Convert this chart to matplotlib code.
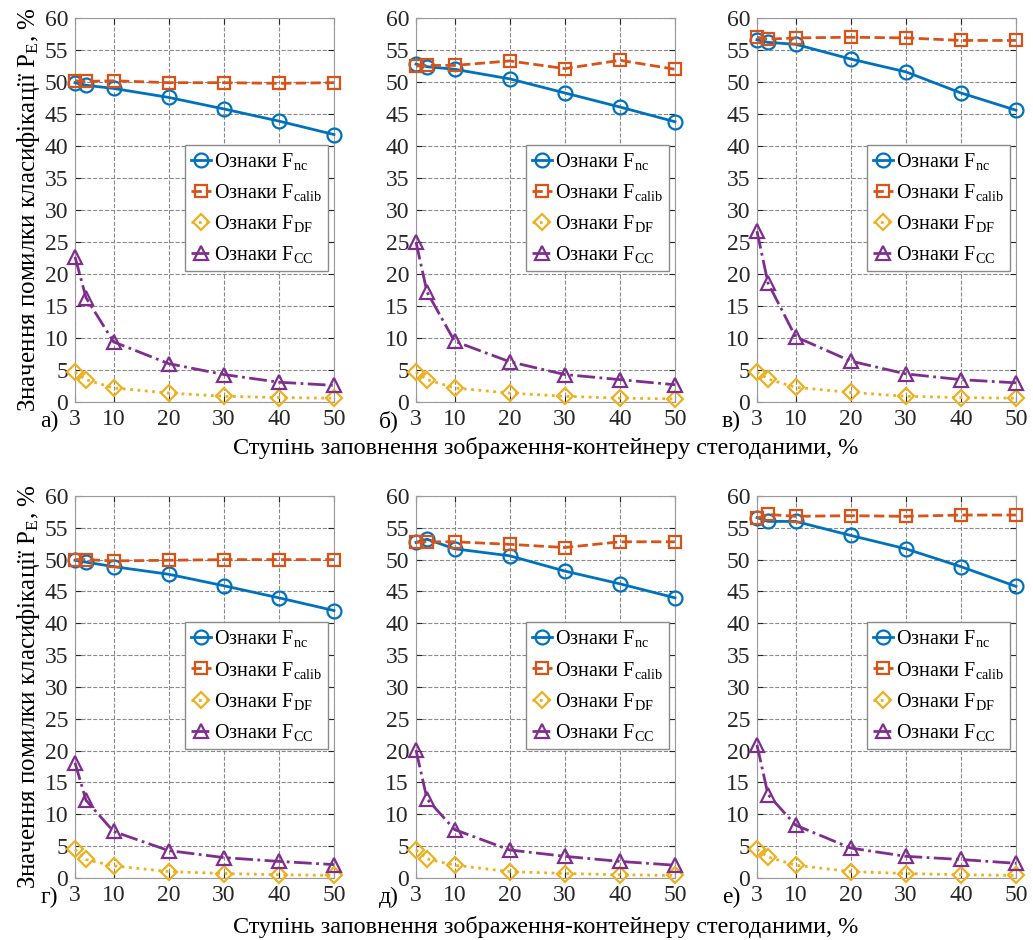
import matplotlib
matplotlib.use('Agg')
import matplotlib.pyplot as plt

plt.rcParams['font.family'] = ['Liberation Serif', 'DejaVu Serif']
plt.rcParams['mathtext.fontset'] = 'custom'
plt.rcParams['mathtext.rm'] = 'Liberation Serif'
plt.rcParams['mathtext.it'] = 'Liberation Serif'

# заповнення, %
x = [3, 5, 10, 20, 30, 40, 50]
x_ticks = [3, 10, 20, 30, 40, 50]

panel_names = ['а)', 'б)', 'в)', 'г)', 'д)', 'е)']

f_nc = [
    [49.9, 49.5, 49.0, 47.6, 45.8, 43.9, 41.8],
    [52.8, 52.4, 52.0, 50.5, 48.3, 46.1, 43.8],
    [56.6, 56.2, 55.9, 53.6, 51.6, 48.3, 45.6],
    [49.9, 49.6, 48.9, 47.7, 45.9, 44.0, 42.0],
    [52.7, 53.2, 51.7, 50.6, 48.2, 46.2, 44.0],
    [56.6, 56.0, 56.0, 53.8, 51.7, 48.9, 45.8],
]
f_calib = [
    [50.2, 50.1, 50.2, 49.9, 49.9, 49.8, 49.9],
    [52.5, 52.6, 52.6, 53.3, 52.1, 53.4, 52.0],
    [57.0, 56.7, 56.9, 57.0, 56.9, 56.5, 56.5],
    [50.0, 50.0, 49.8, 49.9, 50.0, 50.0, 50.0],
    [52.7, 52.8, 52.8, 52.4, 51.9, 52.8, 52.8],
    [56.5, 57.1, 56.8, 56.9, 56.8, 57.0, 57.0],
]
f_df = [
    [4.7, 3.5, 2.2, 1.4, 0.9, 0.7, 0.6],
    [4.7, 3.5, 2.2, 1.4, 0.9, 0.6, 0.5],
    [4.7, 3.6, 2.3, 1.5, 0.9, 0.7, 0.6],
    [4.5, 2.9, 1.9, 1.0, 0.7, 0.5, 0.4],
    [4.4, 3.0, 2.0, 1.0, 0.7, 0.5, 0.4],
    [4.5, 3.3, 2.0, 1.0, 0.7, 0.5, 0.4],
]
f_cc = [
    [22.7, 16.3, 9.4, 6.0, 4.3, 3.1, 2.6],
    [25.0, 17.2, 9.5, 6.3, 4.3, 3.5, 2.7],
    [26.7, 18.6, 10.2, 6.4, 4.4, 3.5, 3.0],
    [18.1, 12.2, 7.3, 4.3, 3.2, 2.6, 2.1],
    [20.1, 12.4, 7.6, 4.4, 3.4, 2.6, 2.0],
    [20.9, 13.1, 8.3, 4.7, 3.4, 2.9, 2.3],
]

labels = [r'Ознаки F$_{\mathrm{nc}}$', r'Ознаки F$_{\mathrm{calib}}$',
          r'Ознаки F$_{\mathrm{DF}}$', r'Ознаки F$_{\mathrm{CC}}$']
colors = ['#0072BD', '#D95319', '#EDB120', '#7E2F8E']
styles = ['-', '--', ':', '-.']
markers = ['o', 's', 'D', '^']
msizes = [10, 8, 8, 10]

ylabel = 'Значення помилки класифікації P$_{\\mathrm{E}}$, %'
xlabel = 'Ступінь заповнення зображення-контейнеру стегоданими, %'

fig = plt.figure(figsize=(10.33, 9.4), dpi=100)

lefts = [0.0726, 0.4027, 0.7328]
bottoms = [0.5723, 0.066]
w = 0.2507
heights = [0.4085, 0.4064]

for i in range(6):
    row, col = i // 3, i % 3
    ax = fig.add_axes([lefts[col], bottoms[row], w, heights[row]])
    series = [f_nc[i], f_calib[i], f_df[i], f_cc[i]]
    for k in range(4):
        ax.plot(x, series[k], linestyle=styles[k], color=colors[k], lw=2,
                marker=markers[k], ms=msizes[k], mfc='none', mew=1.6,
                label=labels[k], clip_on=False, zorder=3)
    ax.set_xlim(3, 50)
    ax.set_ylim(0, 60)
    ax.set_xticks(x_ticks)
    ax.set_yticks(range(0, 61, 5))
    ax.grid(True, linestyle='--', color='#8a8a8a', lw=0.8)
    ax.tick_params(direction='in', length=4, labelsize=17, colors='#262626',
                   top=True, right=True, pad=5)
    for s in ax.spines.values():
        s.set_color('#9a9a9a')
    ax.text(-0.065, -0.05, panel_names[i], transform=ax.transAxes,
            ha='right', va='center', fontsize=17)
    leg = ax.legend(loc='upper right', bbox_to_anchor=(0.977, 0.669),
                    borderaxespad=0, fontsize=14.5, handlelength=1.0,
                    handletextpad=0.15, labelspacing=0.5, fancybox=False,
                    framealpha=1, edgecolor='#8a8a8a', borderpad=0.3)
    leg.set_zorder(5)
    if col == 0:
        ax.set_ylabel(ylabel, fontsize=18, labelpad=2)

fig.text(0.528, 0.523, xlabel, ha='center', va='center', fontsize=17.5)
fig.text(0.528, 0.014, xlabel, ha='center', va='center', fontsize=17.5)

fig.savefig('out.png', dpi=100)
